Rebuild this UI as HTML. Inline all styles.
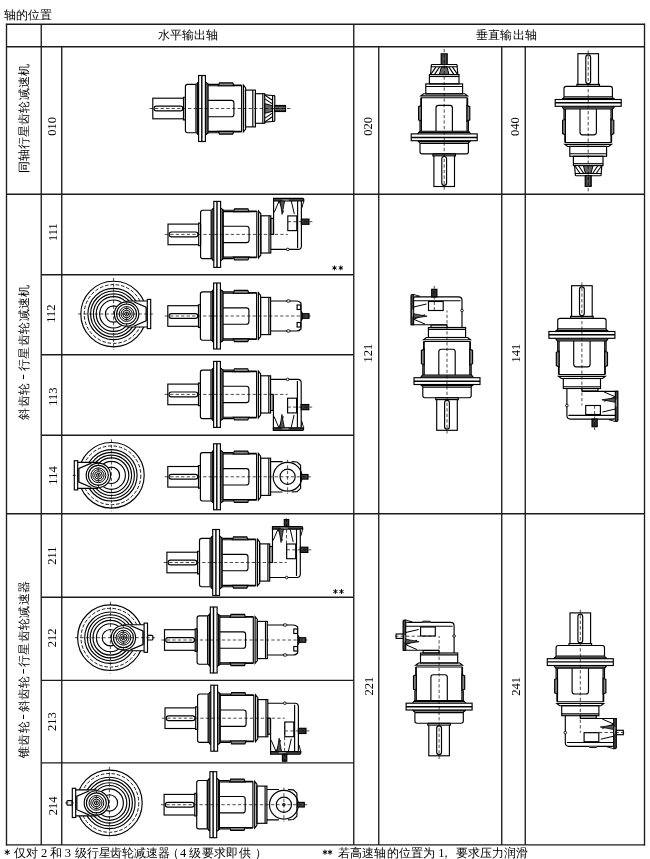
<!DOCTYPE html>
<html><head><meta charset="utf-8"><style>
html,body{margin:0;padding:0;background:#fff;}
svg{display:block;will-change:transform;}
text{font-family:"Liberation Serif",serif;fill:#000;}
.cn{font-family:"Liberation Sans",sans-serif;}
</style></head><body>
<svg width="650" height="859" viewBox="0 0 650 859">
<g stroke="#000" fill="none">
<line x1="6.5" y1="23.65" x2="6.5" y2="845.5" stroke-width="1.35" stroke="#1c1c1c"/>
<line x1="644.5" y1="23.65" x2="644.5" y2="845.5" stroke-width="1.35" stroke="#1c1c1c"/>
<line x1="5.9" y1="24.25" x2="645.1" y2="24.25" stroke-width="1.35" stroke="#1c1c1c"/>
<line x1="5.9" y1="844.9" x2="645.1" y2="844.9" stroke-width="1.35" stroke="#1c1c1c"/>
<line x1="6.5" y1="46.7" x2="644.5" y2="46.7" stroke-width="1.35" stroke="#1c1c1c"/>
<line x1="41.25" y1="24.25" x2="41.25" y2="844.9" stroke-width="1.35" stroke="#1c1c1c"/>
<line x1="353.75" y1="24.25" x2="353.75" y2="844.9" stroke-width="1.35" stroke="#1c1c1c"/>
<line x1="61.75" y1="46.7" x2="61.75" y2="844.9" stroke-width="1.35" stroke="#1c1c1c"/>
<line x1="378.75" y1="46.7" x2="378.75" y2="844.9" stroke-width="1.35" stroke="#1c1c1c"/>
<line x1="501.75" y1="46.7" x2="501.75" y2="844.9" stroke-width="1.35" stroke="#1c1c1c"/>
<line x1="525.25" y1="46.7" x2="525.25" y2="844.9" stroke-width="1.35" stroke="#1c1c1c"/>
<line x1="6.5" y1="194.25" x2="644.5" y2="194.25" stroke-width="1.35" stroke="#1c1c1c"/>
<line x1="6.5" y1="513.75" x2="644.5" y2="513.75" stroke-width="1.35" stroke="#1c1c1c"/>
<line x1="41.25" y1="274.7" x2="353.75" y2="274.7" stroke-width="1.35" stroke="#1c1c1c"/>
<line x1="41.25" y1="354.7" x2="353.75" y2="354.7" stroke-width="1.35" stroke="#1c1c1c"/>
<line x1="41.25" y1="435.25" x2="353.75" y2="435.25" stroke-width="1.35" stroke="#1c1c1c"/>
<line x1="41.25" y1="597.25" x2="353.75" y2="597.25" stroke-width="1.35" stroke="#1c1c1c"/>
<line x1="41.25" y1="680.3" x2="353.75" y2="680.3" stroke-width="1.35" stroke="#1c1c1c"/>
<line x1="41.25" y1="762.8" x2="353.75" y2="762.8" stroke-width="1.35" stroke="#1c1c1c"/>
<g transform="translate(198.6,108.5)">
<rect x="-45.8" y="-10.3" width="30.7" height="20.6" stroke-width="1.15" />
<rect x="-44.6" y="-2.4" width="28.8" height="4.8" rx="2.4" stroke-width="1.15" />
<path d="M -15.1 -10.3 L -15.1 -11.3 L -13.6 -11.3 L -13.2 -10.8 L -13.2 10.8 L -13.6 11.3 L -15.1 11.3 L -15.1 10.3" stroke-width="1.15" />
<path d="M -2.2 -24.2 L -11 -24.2 Q -13.2 -24.2 -13.2 -22 L -13.2 22 Q -13.2 24.2 -11 24.2 L -2.2 24.2 L 0 26.5 M -2.2 -24.2 L 0 -26.5" stroke-width="1.15" />
<line x1="-2.6" y1="-24" x2="-2.6" y2="24" stroke-width="1.3" />
<line x1="-0.9" y1="-26" x2="-0.9" y2="26" stroke-width="1.3" />
<rect x="0" y="-33" width="6.8" height="66" stroke-width="1.15" />
<line x1="3.2" y1="-33" x2="3.2" y2="33" stroke-width="1.4" />
<path d="M 6.8 -26.5 L 9.5 -24.4 L 9.5 24.4 L 6.8 26.5" stroke-width="1.15" />
<line x1="8.4" y1="-25.5" x2="8.4" y2="25.5" stroke-width="1.3" />
<path d="M 9.5 -24.2 L 19.6 -24.2 M 9.5 -22.8 L 43 -22.8 M 35.3 -23.4 L 43 -23.4" stroke-width="1.15" />
<path d="M 9.5 24.2 L 19.6 24.2 M 9.5 22.8 L 43 22.8 M 35.3 23.4 L 43 23.4" stroke-width="1.15" />
<path d="M 19.6 -22.8 L 20.8 -25.6 L 34.1 -25.6 L 35.3 -22.8 Z" fill="#888" stroke-width="1.15" />
<path d="M 19.6 22.8 L 20.8 25.6 L 34.1 25.6 L 35.3 22.8 Z" fill="#888" stroke-width="1.15" />
<path d="M 9.5 -8.2 L 32.8 -8.2 Q 35.3 -8.2 35.3 -5.7 L 35.3 5.7 Q 35.3 8.2 32.8 8.2 L 9.5 8.2" stroke-width="1.15" />
<line x1="43" y1="-23.4" x2="43" y2="23.4" stroke-width="1.15" />
<path d="M 44.8 -23.4 L 47 -20.6 L 47 20.6 L 44.8 23.4 Z" stroke-width="1.15" />
<rect x="46.8" y="-18.4" width="10" height="36.8" stroke-width="1.15" />
<line x1="54.2" y1="-18.4" x2="54.2" y2="18.4" stroke-width="1.15" />
<rect x="56.8" y="-14.8" width="9.3" height="29.6" stroke-width="1.15" />
<line x1="64.2" y1="-14.8" x2="64.2" y2="14.8" stroke-width="1.15" />
<path d="M 66.1 -13.6 L 74 -13 M 66.1 13.6 L 74 13" stroke-width="1.15" />
<path d="M 66.3 -13.4 L 73.8 -8.2 M 66.3 -9.6 L 73.8 -4.6 M 66.3 13.4 L 73.8 8.2 M 66.3 9.6 L 73.8 4.6" stroke-width="1.1" />
<path d="M 66.3 -4.8 L 73.8 -2.8 L 73.8 2.8 L 66.3 4.8 Z" fill="#666" stroke-width="1.0" />
<path d="M 74 -12.9 L 75.4 -12.9 Q 76.2 -12.9 76.2 -12 L 76.2 12 Q 76.2 12.9 75.4 12.9 L 74 12.9 Z" stroke-width="1.15" />
<rect x="76.2" y="-3" width="10.7" height="6" fill="#333" stroke-width="1.15" />
<line x1="76.4" y1="-1" x2="86.8" y2="-1" stroke-width="0.5" stroke="#999"/>
<line x1="76.4" y1="1" x2="86.8" y2="1" stroke-width="0.5" stroke="#999"/>
<line x1="-49" y1="0" x2="92" y2="0" stroke-width="0.7" stroke-dasharray="3.3 2.2"/>
</g>
<g transform="translate(213.8,234.4)">
<rect x="-45.8" y="-10.3" width="30.7" height="20.6" stroke-width="1.15" />
<rect x="-44.6" y="-2.4" width="28.8" height="4.8" rx="2.4" stroke-width="1.15" />
<path d="M -15.1 -10.3 L -15.1 -11.3 L -13.6 -11.3 L -13.2 -10.8 L -13.2 10.8 L -13.6 11.3 L -15.1 11.3 L -15.1 10.3" stroke-width="1.15" />
<path d="M -2.2 -24.2 L -11 -24.2 Q -13.2 -24.2 -13.2 -22 L -13.2 22 Q -13.2 24.2 -11 24.2 L -2.2 24.2 L 0 26.5 M -2.2 -24.2 L 0 -26.5" stroke-width="1.15" />
<line x1="-2.6" y1="-24" x2="-2.6" y2="24" stroke-width="1.3" />
<line x1="-0.9" y1="-26" x2="-0.9" y2="26" stroke-width="1.3" />
<rect x="0" y="-33" width="6.8" height="66" stroke-width="1.15" />
<line x1="3.2" y1="-33" x2="3.2" y2="33" stroke-width="1.4" />
<path d="M 6.8 -26.5 L 9.5 -24.4 L 9.5 24.4 L 6.8 26.5" stroke-width="1.15" />
<line x1="8.4" y1="-25.5" x2="8.4" y2="25.5" stroke-width="1.3" />
<path d="M 9.5 -24.2 L 19.6 -24.2 M 9.5 -22.8 L 43 -22.8 M 35.3 -23.4 L 43 -23.4" stroke-width="1.15" />
<path d="M 9.5 24.2 L 19.6 24.2 M 9.5 22.8 L 43 22.8 M 35.3 23.4 L 43 23.4" stroke-width="1.15" />
<path d="M 19.6 -22.8 L 20.8 -25.6 L 34.1 -25.6 L 35.3 -22.8 Z" fill="#888" stroke-width="1.15" />
<path d="M 19.6 22.8 L 20.8 25.6 L 34.1 25.6 L 35.3 22.8 Z" fill="#888" stroke-width="1.15" />
<path d="M 9.5 -8.2 L 32.8 -8.2 Q 35.3 -8.2 35.3 -5.7 L 35.3 5.7 Q 35.3 8.2 32.8 8.2 L 9.5 8.2" stroke-width="1.15" />
<line x1="43" y1="-23.4" x2="43" y2="23.4" stroke-width="1.15" />
<path d="M 44.8 -23.4 L 47 -20.6 L 47 20.6 L 44.8 23.4 Z" stroke-width="1.15" />
<rect x="47" y="-18.6" width="10" height="37.2" stroke-width="1.15" />
<line x1="55.2" y1="-18.6" x2="55.2" y2="18.6" stroke-width="1.15" />
<rect x="57" y="-16" width="2.5" height="16" stroke-width="1.15" />
<line x1="59.8" y1="0" x2="59.8" y2="-36" stroke-width="1.15" />
<path d="M 59.8 -36 L 88.8 -36 Q 90.0 -36 90.0 -34.8 L 90.0 -33.4 L 59.8 -33.4 Z" fill="#444" stroke-width="1.15" />
<rect x="68" y="-35" width="7" height="1.2" fill="#999" stroke="none"/>
<path d="M 57 15 L 84.1 15 Q 87.6 15 87.6 11.5 L 87.6 -33.4" stroke-width="1.15" />
<line x1="83.8" y1="13.5" x2="83.8" y2="-33.4" stroke-width="1.15" />
<circle cx="74" cy="15" r="1.3" fill="#fff" stroke-width="0.9" />
<rect x="74" y="-18.5" width="9" height="14.7" stroke-width="1.15" />
<path d="M 60.4 -22 L 65.3 -33.4 L 69.8 -22" stroke-width="1.0" />
<path d="M 66.3 -33.4 L 70.8 -33.4 L 68.3 -20 Z" fill="#555" stroke-width="0.8" />
<path d="M 77.5 -33.4 L 80.5 -20.5" stroke-width="1.0" />
<path d="M 87.6 -33.4 L 90.0 -33.4 L 88.19999999999999 -27 Z" fill="#fff" stroke-width="0.9" />
<line x1="-49" y1="0" x2="74" y2="0" stroke-width="0.7" stroke-dasharray="3.3 2.2"/>
<rect x="87.6" y="-15.3" width="7.6" height="5.2" fill="#333" stroke-width="1.15" />
<line x1="74" y1="-12.7" x2="98.6" y2="-12.7" stroke-width="0.7" stroke-dasharray="3.3 2.2"/>
</g>
<g transform="translate(213.6,316.0)">
<rect x="-45.8" y="-10.3" width="30.7" height="20.6" stroke-width="1.15" />
<rect x="-44.6" y="-2.4" width="28.8" height="4.8" rx="2.4" stroke-width="1.15" />
<path d="M -15.1 -10.3 L -15.1 -11.3 L -13.6 -11.3 L -13.2 -10.8 L -13.2 10.8 L -13.6 11.3 L -15.1 11.3 L -15.1 10.3" stroke-width="1.15" />
<path d="M -2.2 -24.2 L -11 -24.2 Q -13.2 -24.2 -13.2 -22 L -13.2 22 Q -13.2 24.2 -11 24.2 L -2.2 24.2 L 0 26.5 M -2.2 -24.2 L 0 -26.5" stroke-width="1.15" />
<line x1="-2.6" y1="-24" x2="-2.6" y2="24" stroke-width="1.3" />
<line x1="-0.9" y1="-26" x2="-0.9" y2="26" stroke-width="1.3" />
<rect x="0" y="-33" width="6.8" height="66" stroke-width="1.15" />
<line x1="3.2" y1="-33" x2="3.2" y2="33" stroke-width="1.4" />
<path d="M 6.8 -26.5 L 9.5 -24.4 L 9.5 24.4 L 6.8 26.5" stroke-width="1.15" />
<line x1="8.4" y1="-25.5" x2="8.4" y2="25.5" stroke-width="1.3" />
<path d="M 9.5 -24.2 L 19.6 -24.2 M 9.5 -22.8 L 43 -22.8 M 35.3 -23.4 L 43 -23.4" stroke-width="1.15" />
<path d="M 9.5 24.2 L 19.6 24.2 M 9.5 22.8 L 43 22.8 M 35.3 23.4 L 43 23.4" stroke-width="1.15" />
<path d="M 19.6 -22.8 L 20.8 -25.6 L 34.1 -25.6 L 35.3 -22.8 Z" fill="#888" stroke-width="1.15" />
<path d="M 19.6 22.8 L 20.8 25.6 L 34.1 25.6 L 35.3 22.8 Z" fill="#888" stroke-width="1.15" />
<path d="M 9.5 -8.2 L 32.8 -8.2 Q 35.3 -8.2 35.3 -5.7 L 35.3 5.7 Q 35.3 8.2 32.8 8.2 L 9.5 8.2" stroke-width="1.15" />
<line x1="43" y1="-23.4" x2="43" y2="23.4" stroke-width="1.15" />
<path d="M 44.8 -23.4 L 47 -20.6 L 47 20.6 L 44.8 23.4 Z" stroke-width="1.15" />
<rect x="47" y="-18.6" width="10" height="37.2" stroke-width="1.15" />
<line x1="55.2" y1="-18.6" x2="55.2" y2="18.6" stroke-width="1.15" />
<path d="M 57 -15 L 83 -15 Q 85.5 -15 87.4 -13 L 87.4 13 Q 85.5 15 83 15 L 57 15" stroke-width="1.15" />
<ellipse cx="74.8" cy="-15" rx="2" ry="1.2" fill="#fff" stroke-width="0.9"/>
<ellipse cx="74.8" cy="15" rx="2" ry="1.2" fill="#fff" stroke-width="0.9"/>
<rect x="83.5" y="-11" width="3.7" height="4.5" stroke-width="1.15" />
<rect x="83.5" y="6.5" width="3.7" height="4.5" stroke-width="1.15" />
<path d="M 87.4 -5 L 88.6 -3 L 88.6 3 L 87.4 5" fill="#333" stroke-width="1.15" />
<rect x="88.6" y="-2.3" width="6.8" height="4.6" fill="#444" stroke-width="1.15" />
<line x1="-49" y1="0" x2="97" y2="0" stroke-width="0.7" stroke-dasharray="3.3 2.2"/>
</g>
<g transform="translate(213.6,394.4)">
<rect x="-45.8" y="-10.3" width="30.7" height="20.6" stroke-width="1.15" />
<rect x="-44.6" y="-2.4" width="28.8" height="4.8" rx="2.4" stroke-width="1.15" />
<path d="M -15.1 -10.3 L -15.1 -11.3 L -13.6 -11.3 L -13.2 -10.8 L -13.2 10.8 L -13.6 11.3 L -15.1 11.3 L -15.1 10.3" stroke-width="1.15" />
<path d="M -2.2 -24.2 L -11 -24.2 Q -13.2 -24.2 -13.2 -22 L -13.2 22 Q -13.2 24.2 -11 24.2 L -2.2 24.2 L 0 26.5 M -2.2 -24.2 L 0 -26.5" stroke-width="1.15" />
<line x1="-2.6" y1="-24" x2="-2.6" y2="24" stroke-width="1.3" />
<line x1="-0.9" y1="-26" x2="-0.9" y2="26" stroke-width="1.3" />
<rect x="0" y="-33" width="6.8" height="66" stroke-width="1.15" />
<line x1="3.2" y1="-33" x2="3.2" y2="33" stroke-width="1.4" />
<path d="M 6.8 -26.5 L 9.5 -24.4 L 9.5 24.4 L 6.8 26.5" stroke-width="1.15" />
<line x1="8.4" y1="-25.5" x2="8.4" y2="25.5" stroke-width="1.3" />
<path d="M 9.5 -24.2 L 19.6 -24.2 M 9.5 -22.8 L 43 -22.8 M 35.3 -23.4 L 43 -23.4" stroke-width="1.15" />
<path d="M 9.5 24.2 L 19.6 24.2 M 9.5 22.8 L 43 22.8 M 35.3 23.4 L 43 23.4" stroke-width="1.15" />
<path d="M 19.6 -22.8 L 20.8 -25.6 L 34.1 -25.6 L 35.3 -22.8 Z" fill="#888" stroke-width="1.15" />
<path d="M 19.6 22.8 L 20.8 25.6 L 34.1 25.6 L 35.3 22.8 Z" fill="#888" stroke-width="1.15" />
<path d="M 9.5 -8.2 L 32.8 -8.2 Q 35.3 -8.2 35.3 -5.7 L 35.3 5.7 Q 35.3 8.2 32.8 8.2 L 9.5 8.2" stroke-width="1.15" />
<line x1="43" y1="-23.4" x2="43" y2="23.4" stroke-width="1.15" />
<path d="M 44.8 -23.4 L 47 -20.6 L 47 20.6 L 44.8 23.4 Z" stroke-width="1.15" />
<rect x="47" y="-18.6" width="10" height="37.2" stroke-width="1.15" />
<line x1="55.2" y1="-18.6" x2="55.2" y2="18.6" stroke-width="1.15" />
<rect x="57" y="0" width="2.5" height="16" stroke-width="1.15" />
<line x1="59.8" y1="0" x2="59.8" y2="36" stroke-width="1.15" />
<path d="M 59.8 36 L 88.8 36 Q 90.0 36 90.0 34.8 L 90.0 33.4 L 59.8 33.4 Z" fill="#444" stroke-width="1.15" />
<rect x="68" y="33.8" width="7" height="1.2" fill="#999" stroke="none"/>
<path d="M 57 -15 L 84.1 -15 Q 87.6 -15 87.6 -11.5 L 87.6 33.4" stroke-width="1.15" />
<line x1="83.8" y1="-13.5" x2="83.8" y2="33.4" stroke-width="1.15" />
<circle cx="74" cy="-15" r="1.3" fill="#fff" stroke-width="0.9" />
<rect x="74" y="3.8" width="9" height="14.7" stroke-width="1.15" />
<path d="M 60.4 22 L 65.3 33.4 L 69.8 22" stroke-width="1.0" />
<path d="M 66.3 33.4 L 70.8 33.4 L 68.3 20 Z" fill="#555" stroke-width="0.8" />
<path d="M 77.5 33.4 L 80.5 20.5" stroke-width="1.0" />
<path d="M 87.6 33.4 L 90.0 33.4 L 88.19999999999999 27 Z" fill="#fff" stroke-width="0.9" />
<line x1="-49" y1="0" x2="74" y2="0" stroke-width="0.7" stroke-dasharray="3.3 2.2"/>
<rect x="87.6" y="10.1" width="7.6" height="5.2" fill="#333" stroke-width="1.15" />
<line x1="74" y1="12.7" x2="98.6" y2="12.7" stroke-width="0.7" stroke-dasharray="3.3 2.2"/>
</g>
<g transform="translate(213.6,476.8)">
<rect x="-45.8" y="-10.3" width="30.7" height="20.6" stroke-width="1.15" />
<rect x="-44.6" y="-2.4" width="28.8" height="4.8" rx="2.4" stroke-width="1.15" />
<path d="M -15.1 -10.3 L -15.1 -11.3 L -13.6 -11.3 L -13.2 -10.8 L -13.2 10.8 L -13.6 11.3 L -15.1 11.3 L -15.1 10.3" stroke-width="1.15" />
<path d="M -2.2 -24.2 L -11 -24.2 Q -13.2 -24.2 -13.2 -22 L -13.2 22 Q -13.2 24.2 -11 24.2 L -2.2 24.2 L 0 26.5 M -2.2 -24.2 L 0 -26.5" stroke-width="1.15" />
<line x1="-2.6" y1="-24" x2="-2.6" y2="24" stroke-width="1.3" />
<line x1="-0.9" y1="-26" x2="-0.9" y2="26" stroke-width="1.3" />
<rect x="0" y="-33" width="6.8" height="66" stroke-width="1.15" />
<line x1="3.2" y1="-33" x2="3.2" y2="33" stroke-width="1.4" />
<path d="M 6.8 -26.5 L 9.5 -24.4 L 9.5 24.4 L 6.8 26.5" stroke-width="1.15" />
<line x1="8.4" y1="-25.5" x2="8.4" y2="25.5" stroke-width="1.3" />
<path d="M 9.5 -24.2 L 19.6 -24.2 M 9.5 -22.8 L 43 -22.8 M 35.3 -23.4 L 43 -23.4" stroke-width="1.15" />
<path d="M 9.5 24.2 L 19.6 24.2 M 9.5 22.8 L 43 22.8 M 35.3 23.4 L 43 23.4" stroke-width="1.15" />
<path d="M 19.6 -22.8 L 20.8 -25.6 L 34.1 -25.6 L 35.3 -22.8 Z" fill="#888" stroke-width="1.15" />
<path d="M 19.6 22.8 L 20.8 25.6 L 34.1 25.6 L 35.3 22.8 Z" fill="#888" stroke-width="1.15" />
<path d="M 9.5 -8.2 L 32.8 -8.2 Q 35.3 -8.2 35.3 -5.7 L 35.3 5.7 Q 35.3 8.2 32.8 8.2 L 9.5 8.2" stroke-width="1.15" />
<line x1="43" y1="-23.4" x2="43" y2="23.4" stroke-width="1.15" />
<path d="M 44.8 -23.4 L 47 -20.6 L 47 20.6 L 44.8 23.4 Z" stroke-width="1.15" />
<rect x="47" y="-18.6" width="10" height="37.2" stroke-width="1.15" />
<line x1="55.2" y1="-18.6" x2="55.2" y2="18.6" stroke-width="1.15" />
<path d="M 57 -15.2 L 69 -15.2 M 57 15.2 L 69 15.2" stroke-width="1.15" />
<path d="M 78 -15.2 L 83.5 -14.8 L 87 -11.5 L 87 11.5 L 83.5 14.8 L 78 15.2" stroke-width="1.15" />
<circle cx="74" cy="0" r="14.4" stroke-width="1.15" />
<circle cx="74" cy="0" r="7.6" stroke-width="1.15" />
<line x1="74" y1="-17" x2="74" y2="17" stroke-width="0.7" stroke-dasharray="3.3 2.2"/>
<rect x="87.6" y="-2.3" width="6.8" height="4.6" fill="#444" stroke-width="1.15" />
<line x1="-49" y1="0" x2="98" y2="0" stroke-width="0.7" stroke-dasharray="3.3 2.2"/>
</g>
<g transform="translate(212.7,562.5)">
<rect x="-45.8" y="-10.3" width="30.7" height="20.6" stroke-width="1.15" />
<rect x="-44.6" y="-2.4" width="28.8" height="4.8" rx="2.4" stroke-width="1.15" />
<path d="M -15.1 -10.3 L -15.1 -11.3 L -13.6 -11.3 L -13.2 -10.8 L -13.2 10.8 L -13.6 11.3 L -15.1 11.3 L -15.1 10.3" stroke-width="1.15" />
<path d="M -2.2 -24.2 L -11 -24.2 Q -13.2 -24.2 -13.2 -22 L -13.2 22 Q -13.2 24.2 -11 24.2 L -2.2 24.2 L 0 26.5 M -2.2 -24.2 L 0 -26.5" stroke-width="1.15" />
<line x1="-2.6" y1="-24" x2="-2.6" y2="24" stroke-width="1.3" />
<line x1="-0.9" y1="-26" x2="-0.9" y2="26" stroke-width="1.3" />
<rect x="0" y="-33" width="6.8" height="66" stroke-width="1.15" />
<line x1="3.2" y1="-33" x2="3.2" y2="33" stroke-width="1.4" />
<path d="M 6.8 -26.5 L 9.5 -24.4 L 9.5 24.4 L 6.8 26.5" stroke-width="1.15" />
<line x1="8.4" y1="-25.5" x2="8.4" y2="25.5" stroke-width="1.3" />
<path d="M 9.5 -24.2 L 19.6 -24.2 M 9.5 -22.8 L 43 -22.8 M 35.3 -23.4 L 43 -23.4" stroke-width="1.15" />
<path d="M 9.5 24.2 L 19.6 24.2 M 9.5 22.8 L 43 22.8 M 35.3 23.4 L 43 23.4" stroke-width="1.15" />
<path d="M 19.6 -22.8 L 20.8 -25.6 L 34.1 -25.6 L 35.3 -22.8 Z" fill="#888" stroke-width="1.15" />
<path d="M 19.6 22.8 L 20.8 25.6 L 34.1 25.6 L 35.3 22.8 Z" fill="#888" stroke-width="1.15" />
<path d="M 9.5 -8.2 L 32.8 -8.2 Q 35.3 -8.2 35.3 -5.7 L 35.3 5.7 Q 35.3 8.2 32.8 8.2 L 9.5 8.2" stroke-width="1.15" />
<line x1="43" y1="-23.4" x2="43" y2="23.4" stroke-width="1.15" />
<path d="M 44.8 -23.4 L 47 -20.6 L 47 20.6 L 44.8 23.4 Z" stroke-width="1.15" />
<rect x="47" y="-18.6" width="10" height="37.2" stroke-width="1.15" />
<line x1="55.2" y1="-18.6" x2="55.2" y2="18.6" stroke-width="1.15" />
<rect x="57" y="-16" width="2.5" height="16" stroke-width="1.15" />
<line x1="59.8" y1="0" x2="59.8" y2="-36" stroke-width="1.15" />
<path d="M 59.8 -36 L 88.8 -36 Q 90.0 -36 90.0 -34.8 L 90.0 -33.4 L 59.8 -33.4 Z" fill="#444" stroke-width="1.15" />
<rect x="68" y="-35" width="7" height="1.2" fill="#999" stroke="none"/>
<path d="M 57 15 L 84.1 15 Q 87.6 15 87.6 11.5 L 87.6 -33.4" stroke-width="1.15" />
<line x1="83.8" y1="13.5" x2="83.8" y2="-33.4" stroke-width="1.15" />
<circle cx="74" cy="15" r="1.3" fill="#fff" stroke-width="0.9" />
<rect x="74" y="-18.5" width="9" height="14.7" stroke-width="1.15" />
<path d="M 60.4 -22 L 65.3 -33.4 L 69.8 -22" stroke-width="1.0" />
<path d="M 66.3 -33.4 L 70.8 -33.4 L 68.3 -20 Z" fill="#555" stroke-width="0.8" />
<path d="M 77.5 -33.4 L 80.5 -20.5" stroke-width="1.0" />
<path d="M 87.6 -33.4 L 90.0 -33.4 L 88.19999999999999 -27 Z" fill="#fff" stroke-width="0.9" />
<line x1="-49" y1="0" x2="74" y2="0" stroke-width="0.7" stroke-dasharray="3.3 2.2"/>
<rect x="87.6" y="-15.3" width="7.6" height="5.2" fill="#333" stroke-width="1.15" />
<line x1="74" y1="-12.7" x2="98.6" y2="-12.7" stroke-width="0.7" stroke-dasharray="3.3 2.2"/>
<rect x="71.6" y="-43" width="4.4" height="7" fill="#333" stroke-width="1.15" />
<line x1="73.8" y1="-44" x2="73.8" y2="-4" stroke-width="0.7" stroke-dasharray="3.3 2.2"/>
</g>
<g transform="translate(210.3,640.0)">
<rect x="-45.8" y="-10.3" width="30.7" height="20.6" stroke-width="1.15" />
<rect x="-44.6" y="-2.4" width="28.8" height="4.8" rx="2.4" stroke-width="1.15" />
<path d="M -15.1 -10.3 L -15.1 -11.3 L -13.6 -11.3 L -13.2 -10.8 L -13.2 10.8 L -13.6 11.3 L -15.1 11.3 L -15.1 10.3" stroke-width="1.15" />
<path d="M -2.2 -24.2 L -11 -24.2 Q -13.2 -24.2 -13.2 -22 L -13.2 22 Q -13.2 24.2 -11 24.2 L -2.2 24.2 L 0 26.5 M -2.2 -24.2 L 0 -26.5" stroke-width="1.15" />
<line x1="-2.6" y1="-24" x2="-2.6" y2="24" stroke-width="1.3" />
<line x1="-0.9" y1="-26" x2="-0.9" y2="26" stroke-width="1.3" />
<rect x="0" y="-33" width="6.8" height="66" stroke-width="1.15" />
<line x1="3.2" y1="-33" x2="3.2" y2="33" stroke-width="1.4" />
<path d="M 6.8 -26.5 L 9.5 -24.4 L 9.5 24.4 L 6.8 26.5" stroke-width="1.15" />
<line x1="8.4" y1="-25.5" x2="8.4" y2="25.5" stroke-width="1.3" />
<path d="M 9.5 -24.2 L 19.6 -24.2 M 9.5 -22.8 L 43 -22.8 M 35.3 -23.4 L 43 -23.4" stroke-width="1.15" />
<path d="M 9.5 24.2 L 19.6 24.2 M 9.5 22.8 L 43 22.8 M 35.3 23.4 L 43 23.4" stroke-width="1.15" />
<path d="M 19.6 -22.8 L 20.8 -25.6 L 34.1 -25.6 L 35.3 -22.8 Z" fill="#888" stroke-width="1.15" />
<path d="M 19.6 22.8 L 20.8 25.6 L 34.1 25.6 L 35.3 22.8 Z" fill="#888" stroke-width="1.15" />
<path d="M 9.5 -8.2 L 32.8 -8.2 Q 35.3 -8.2 35.3 -5.7 L 35.3 5.7 Q 35.3 8.2 32.8 8.2 L 9.5 8.2" stroke-width="1.15" />
<line x1="43" y1="-23.4" x2="43" y2="23.4" stroke-width="1.15" />
<path d="M 44.8 -23.4 L 47 -20.6 L 47 20.6 L 44.8 23.4 Z" stroke-width="1.15" />
<rect x="47" y="-18.6" width="10" height="37.2" stroke-width="1.15" />
<line x1="55.2" y1="-18.6" x2="55.2" y2="18.6" stroke-width="1.15" />
<path d="M 57 -15 L 83 -15 Q 85.5 -15 87.4 -13 L 87.4 13 Q 85.5 15 83 15 L 57 15" stroke-width="1.15" />
<ellipse cx="74.8" cy="-15" rx="2" ry="1.2" fill="#fff" stroke-width="0.9"/>
<ellipse cx="74.8" cy="15" rx="2" ry="1.2" fill="#fff" stroke-width="0.9"/>
<rect x="83.5" y="-11" width="3.7" height="4.5" stroke-width="1.15" />
<rect x="83.5" y="6.5" width="3.7" height="4.5" stroke-width="1.15" />
<path d="M 87.4 -5 L 88.6 -3 L 88.6 3 L 87.4 5" fill="#333" stroke-width="1.15" />
<rect x="88.6" y="-2.3" width="6.8" height="4.6" fill="#444" stroke-width="1.15" />
<line x1="-49" y1="0" x2="97" y2="0" stroke-width="0.7" stroke-dasharray="3.3 2.2"/>
</g>
<g transform="translate(210.8,718.2)">
<rect x="-45.8" y="-10.3" width="30.7" height="20.6" stroke-width="1.15" />
<rect x="-44.6" y="-2.4" width="28.8" height="4.8" rx="2.4" stroke-width="1.15" />
<path d="M -15.1 -10.3 L -15.1 -11.3 L -13.6 -11.3 L -13.2 -10.8 L -13.2 10.8 L -13.6 11.3 L -15.1 11.3 L -15.1 10.3" stroke-width="1.15" />
<path d="M -2.2 -24.2 L -11 -24.2 Q -13.2 -24.2 -13.2 -22 L -13.2 22 Q -13.2 24.2 -11 24.2 L -2.2 24.2 L 0 26.5 M -2.2 -24.2 L 0 -26.5" stroke-width="1.15" />
<line x1="-2.6" y1="-24" x2="-2.6" y2="24" stroke-width="1.3" />
<line x1="-0.9" y1="-26" x2="-0.9" y2="26" stroke-width="1.3" />
<rect x="0" y="-33" width="6.8" height="66" stroke-width="1.15" />
<line x1="3.2" y1="-33" x2="3.2" y2="33" stroke-width="1.4" />
<path d="M 6.8 -26.5 L 9.5 -24.4 L 9.5 24.4 L 6.8 26.5" stroke-width="1.15" />
<line x1="8.4" y1="-25.5" x2="8.4" y2="25.5" stroke-width="1.3" />
<path d="M 9.5 -24.2 L 19.6 -24.2 M 9.5 -22.8 L 43 -22.8 M 35.3 -23.4 L 43 -23.4" stroke-width="1.15" />
<path d="M 9.5 24.2 L 19.6 24.2 M 9.5 22.8 L 43 22.8 M 35.3 23.4 L 43 23.4" stroke-width="1.15" />
<path d="M 19.6 -22.8 L 20.8 -25.6 L 34.1 -25.6 L 35.3 -22.8 Z" fill="#888" stroke-width="1.15" />
<path d="M 19.6 22.8 L 20.8 25.6 L 34.1 25.6 L 35.3 22.8 Z" fill="#888" stroke-width="1.15" />
<path d="M 9.5 -8.2 L 32.8 -8.2 Q 35.3 -8.2 35.3 -5.7 L 35.3 5.7 Q 35.3 8.2 32.8 8.2 L 9.5 8.2" stroke-width="1.15" />
<line x1="43" y1="-23.4" x2="43" y2="23.4" stroke-width="1.15" />
<path d="M 44.8 -23.4 L 47 -20.6 L 47 20.6 L 44.8 23.4 Z" stroke-width="1.15" />
<rect x="47" y="-18.6" width="10" height="37.2" stroke-width="1.15" />
<line x1="55.2" y1="-18.6" x2="55.2" y2="18.6" stroke-width="1.15" />
<rect x="57" y="0" width="2.5" height="16" stroke-width="1.15" />
<line x1="59.8" y1="0" x2="59.8" y2="36" stroke-width="1.15" />
<path d="M 59.8 36 L 88.8 36 Q 90.0 36 90.0 34.8 L 90.0 33.4 L 59.8 33.4 Z" fill="#444" stroke-width="1.15" />
<rect x="68" y="33.8" width="7" height="1.2" fill="#999" stroke="none"/>
<path d="M 57 -15 L 84.1 -15 Q 87.6 -15 87.6 -11.5 L 87.6 33.4" stroke-width="1.15" />
<line x1="83.8" y1="-13.5" x2="83.8" y2="33.4" stroke-width="1.15" />
<circle cx="74" cy="-15" r="1.3" fill="#fff" stroke-width="0.9" />
<rect x="74" y="3.8" width="9" height="14.7" stroke-width="1.15" />
<path d="M 60.4 22 L 65.3 33.4 L 69.8 22" stroke-width="1.0" />
<path d="M 66.3 33.4 L 70.8 33.4 L 68.3 20 Z" fill="#555" stroke-width="0.8" />
<path d="M 77.5 33.4 L 80.5 20.5" stroke-width="1.0" />
<path d="M 87.6 33.4 L 90.0 33.4 L 88.19999999999999 27 Z" fill="#fff" stroke-width="0.9" />
<line x1="-49" y1="0" x2="74" y2="0" stroke-width="0.7" stroke-dasharray="3.3 2.2"/>
<rect x="87.6" y="10.1" width="7.6" height="5.2" fill="#333" stroke-width="1.15" />
<line x1="74" y1="12.7" x2="98.6" y2="12.7" stroke-width="0.7" stroke-dasharray="3.3 2.2"/>
<rect x="71.6" y="36" width="4.4" height="7" fill="#333" stroke-width="1.15" />
<line x1="73.8" y1="44" x2="73.8" y2="4" stroke-width="0.7" stroke-dasharray="3.3 2.2"/>
</g>
<g transform="translate(209.9,804.7)">
<rect x="-45.8" y="-10.3" width="30.7" height="20.6" stroke-width="1.15" />
<rect x="-44.6" y="-2.4" width="28.8" height="4.8" rx="2.4" stroke-width="1.15" />
<path d="M -15.1 -10.3 L -15.1 -11.3 L -13.6 -11.3 L -13.2 -10.8 L -13.2 10.8 L -13.6 11.3 L -15.1 11.3 L -15.1 10.3" stroke-width="1.15" />
<path d="M -2.2 -24.2 L -11 -24.2 Q -13.2 -24.2 -13.2 -22 L -13.2 22 Q -13.2 24.2 -11 24.2 L -2.2 24.2 L 0 26.5 M -2.2 -24.2 L 0 -26.5" stroke-width="1.15" />
<line x1="-2.6" y1="-24" x2="-2.6" y2="24" stroke-width="1.3" />
<line x1="-0.9" y1="-26" x2="-0.9" y2="26" stroke-width="1.3" />
<rect x="0" y="-33" width="6.8" height="66" stroke-width="1.15" />
<line x1="3.2" y1="-33" x2="3.2" y2="33" stroke-width="1.4" />
<path d="M 6.8 -26.5 L 9.5 -24.4 L 9.5 24.4 L 6.8 26.5" stroke-width="1.15" />
<line x1="8.4" y1="-25.5" x2="8.4" y2="25.5" stroke-width="1.3" />
<path d="M 9.5 -24.2 L 19.6 -24.2 M 9.5 -22.8 L 43 -22.8 M 35.3 -23.4 L 43 -23.4" stroke-width="1.15" />
<path d="M 9.5 24.2 L 19.6 24.2 M 9.5 22.8 L 43 22.8 M 35.3 23.4 L 43 23.4" stroke-width="1.15" />
<path d="M 19.6 -22.8 L 20.8 -25.6 L 34.1 -25.6 L 35.3 -22.8 Z" fill="#888" stroke-width="1.15" />
<path d="M 19.6 22.8 L 20.8 25.6 L 34.1 25.6 L 35.3 22.8 Z" fill="#888" stroke-width="1.15" />
<path d="M 9.5 -8.2 L 32.8 -8.2 Q 35.3 -8.2 35.3 -5.7 L 35.3 5.7 Q 35.3 8.2 32.8 8.2 L 9.5 8.2" stroke-width="1.15" />
<line x1="43" y1="-23.4" x2="43" y2="23.4" stroke-width="1.15" />
<path d="M 44.8 -23.4 L 47 -20.6 L 47 20.6 L 44.8 23.4 Z" stroke-width="1.15" />
<rect x="47" y="-18.6" width="10" height="37.2" stroke-width="1.15" />
<line x1="55.2" y1="-18.6" x2="55.2" y2="18.6" stroke-width="1.15" />
<path d="M 57 -15.2 L 69 -15.2 M 57 15.2 L 69 15.2" stroke-width="1.15" />
<path d="M 78 -15.2 L 83.5 -14.8 L 87 -11.5 L 87 11.5 L 83.5 14.8 L 78 15.2" stroke-width="1.15" />
<circle cx="74" cy="0" r="14.4" stroke-width="1.15" />
<circle cx="74" cy="0" r="7.6" stroke-width="1.15" />
<circle cx="74" cy="0" r="1.3" stroke-width="1.0" />
<line x1="74" y1="-17" x2="74" y2="17" stroke-width="0.7" stroke-dasharray="3.3 2.2"/>
<rect x="87.6" y="-2.3" width="6.8" height="4.6" fill="#444" stroke-width="1.15" />
<line x1="-49" y1="0" x2="98" y2="0" stroke-width="0.7" stroke-dasharray="3.3 2.2"/>
</g>
<circle cx="113.6" cy="314" r="32.8" stroke-width="1.15" />
<circle cx="113.6" cy="314" r="29.4" stroke-width="0.9" stroke-dasharray="3.6 1.8"/>
<circle cx="113.6" cy="314" r="25.7" stroke-width="1.15" />
<circle cx="113.6" cy="314" r="23" stroke-width="1.15" />
<circle cx="113.6" cy="314" r="20.2" stroke-width="1.15" />
<circle cx="113.6" cy="314" r="17.4" stroke-width="1.15" />
<circle cx="113.6" cy="314" r="14" stroke-width="1.15" />
<circle cx="113.6" cy="314" r="8.2" stroke-width="1.15" />
<path d="M 126.6 301 L 147.3 301 L 147.3 327 L 126.6 327 Z" fill="#fff" stroke="none"/>
<path d="M 126.6 301 L 147.3 301 M 126.6 327 L 147.3 327" stroke-width="1.15" />
<path d="M 133.6 301.8 L 146.1 307.2 L 146.1 320.8 L 133.6 326.2" stroke-width="1.15" />
<line x1="147.1" y1="307.2" x2="147.1" y2="320.8" stroke-width="0.8" />
<circle cx="126.6" cy="314" r="12.2" fill="#fff" stroke-width="1.15" />
<circle cx="126.6" cy="314" r="10" stroke-width="1.15" />
<circle cx="126.6" cy="314" r="7.4" stroke-width="1.0" />
<circle cx="126.6" cy="314" r="5.6" stroke-width="1.0" />
<circle cx="126.6" cy="314" r="3.8" stroke-width="1.0" />
<circle cx="126.6" cy="314" r="2" stroke-width="1.0" />
<circle cx="126.6" cy="314" r="0.6" stroke-width="0.8" />
<rect x="147.3" y="299.4" width="3.4" height="29.2" stroke-width="1.15" />
<line x1="78.1" y1="314" x2="153.3" y2="314" stroke-width="0.7" stroke-dasharray="3.3 2.2"/>
<line x1="113.6" y1="278" x2="113.6" y2="350" stroke-width="0.7" stroke-dasharray="3.3 2.2"/>
<line x1="126.6" y1="301" x2="126.6" y2="327" stroke-width="0.7" stroke-dasharray="3.3 2.2"/>
<circle cx="111.4" cy="475.3" r="32.8" stroke-width="1.15" />
<circle cx="111.4" cy="475.3" r="29.4" stroke-width="0.9" stroke-dasharray="3.6 1.8"/>
<circle cx="111.4" cy="475.3" r="25.7" stroke-width="1.15" />
<circle cx="111.4" cy="475.3" r="23" stroke-width="1.15" />
<circle cx="111.4" cy="475.3" r="20.2" stroke-width="1.15" />
<circle cx="111.4" cy="475.3" r="17.4" stroke-width="1.15" />
<circle cx="111.4" cy="475.3" r="14" stroke-width="1.15" />
<circle cx="111.4" cy="475.3" r="8.2" stroke-width="1.15" />
<path d="M 98.4 462.3 L 77.7 462.3 L 77.7 488.3 L 98.4 488.3 Z" fill="#fff" stroke="none"/>
<path d="M 98.4 462.3 L 77.7 462.3 M 98.4 488.3 L 77.7 488.3" stroke-width="1.15" />
<path d="M 91.4 463.1 L 78.9 468.5 L 78.9 482.1 L 91.4 487.5" stroke-width="1.15" />
<line x1="77.9" y1="468.5" x2="77.9" y2="482.1" stroke-width="0.8" />
<circle cx="98.4" cy="475.3" r="12.2" fill="#fff" stroke-width="1.15" />
<circle cx="98.4" cy="475.3" r="10" stroke-width="1.15" />
<circle cx="98.4" cy="475.3" r="7.4" stroke-width="1.0" />
<circle cx="98.4" cy="475.3" r="5.6" stroke-width="1.0" />
<circle cx="98.4" cy="475.3" r="3.8" stroke-width="1.0" />
<circle cx="98.4" cy="475.3" r="2" stroke-width="1.0" />
<circle cx="98.4" cy="475.3" r="0.6" stroke-width="0.8" />
<rect x="74.3" y="460.7" width="3.4" height="29.2" stroke-width="1.15" />
<line x1="75.9" y1="475.3" x2="71.7" y2="475.3" stroke-width="0.7" stroke-dasharray="3.3 2.2"/>
<line x1="111.4" y1="439.3" x2="111.4" y2="511.3" stroke-width="0.7" stroke-dasharray="3.3 2.2"/>
<line x1="98.4" y1="462.3" x2="98.4" y2="488.3" stroke-width="0.7" stroke-dasharray="3.3 2.2"/>
<circle cx="110.4" cy="637.7" r="32.8" stroke-width="1.15" />
<circle cx="110.4" cy="637.7" r="29.4" stroke-width="0.9" stroke-dasharray="3.6 1.8"/>
<circle cx="110.4" cy="637.7" r="25.7" stroke-width="1.15" />
<circle cx="110.4" cy="637.7" r="23" stroke-width="1.15" />
<circle cx="110.4" cy="637.7" r="20.2" stroke-width="1.15" />
<circle cx="110.4" cy="637.7" r="17.4" stroke-width="1.15" />
<circle cx="110.4" cy="637.7" r="14" stroke-width="1.15" />
<circle cx="110.4" cy="637.7" r="8.2" stroke-width="1.15" />
<path d="M 123.4 624.7 L 144.1 624.7 L 144.1 650.7 L 123.4 650.7 Z" fill="#fff" stroke="none"/>
<path d="M 123.4 624.7 L 144.1 624.7 M 123.4 650.7 L 144.1 650.7" stroke-width="1.15" />
<path d="M 130.4 625.5 L 142.9 630.9 L 142.9 644.5 L 130.4 649.9" stroke-width="1.15" />
<line x1="143.9" y1="630.9" x2="143.9" y2="644.5" stroke-width="0.8" />
<circle cx="123.4" cy="637.7" r="12.2" fill="#fff" stroke-width="1.15" />
<circle cx="123.4" cy="637.7" r="10" stroke-width="1.15" />
<circle cx="123.4" cy="637.7" r="7.4" stroke-width="1.0" />
<circle cx="123.4" cy="637.7" r="5.6" stroke-width="1.0" />
<circle cx="123.4" cy="637.7" r="3.8" stroke-width="1.0" />
<circle cx="123.4" cy="637.7" r="2" stroke-width="1.0" />
<circle cx="123.4" cy="637.7" r="0.6" stroke-width="0.8" />
<rect x="144.1" y="623.1" width="3.4" height="29.2" stroke-width="1.15" />
<rect x="147.5" y="635.4" width="5.4" height="4.6" rx="1" stroke-width="1.15" />
<line x1="74.9" y1="637.7" x2="155.1" y2="637.7" stroke-width="0.7" stroke-dasharray="3.3 2.2"/>
<line x1="110.4" y1="601.7" x2="110.4" y2="673.7" stroke-width="0.7" stroke-dasharray="3.3 2.2"/>
<line x1="123.4" y1="624.7" x2="123.4" y2="650.7" stroke-width="0.7" stroke-dasharray="3.3 2.2"/>
<circle cx="109.4" cy="802.9" r="32.8" stroke-width="1.15" />
<circle cx="109.4" cy="802.9" r="29.4" stroke-width="0.9" stroke-dasharray="3.6 1.8"/>
<circle cx="109.4" cy="802.9" r="25.7" stroke-width="1.15" />
<circle cx="109.4" cy="802.9" r="23" stroke-width="1.15" />
<circle cx="109.4" cy="802.9" r="20.2" stroke-width="1.15" />
<circle cx="109.4" cy="802.9" r="17.4" stroke-width="1.15" />
<circle cx="109.4" cy="802.9" r="14" stroke-width="1.15" />
<circle cx="109.4" cy="802.9" r="8.2" stroke-width="1.15" />
<path d="M 96.4 789.9 L 75.7 789.9 L 75.7 815.9 L 96.4 815.9 Z" fill="#fff" stroke="none"/>
<path d="M 96.4 789.9 L 75.7 789.9 M 96.4 815.9 L 75.7 815.9" stroke-width="1.15" />
<path d="M 89.4 790.7 L 76.9 796.1 L 76.9 809.7 L 89.4 815.1" stroke-width="1.15" />
<line x1="75.9" y1="796.1" x2="75.9" y2="809.7" stroke-width="0.8" />
<circle cx="96.4" cy="802.9" r="12.2" fill="#fff" stroke-width="1.15" />
<circle cx="96.4" cy="802.9" r="10" stroke-width="1.15" />
<circle cx="96.4" cy="802.9" r="7.4" stroke-width="1.0" />
<circle cx="96.4" cy="802.9" r="5.6" stroke-width="1.0" />
<circle cx="96.4" cy="802.9" r="3.8" stroke-width="1.0" />
<circle cx="96.4" cy="802.9" r="2" stroke-width="1.0" />
<circle cx="96.4" cy="802.9" r="0.6" stroke-width="0.8" />
<rect x="72.3" y="788.3" width="3.4" height="29.2" stroke-width="1.15" />
<rect x="66.9" y="800.6" width="5.4" height="4.6" rx="1" stroke-width="1.15" />
<line x1="73.9" y1="802.9" x2="64.7" y2="802.9" stroke-width="0.7" stroke-dasharray="3.3 2.2"/>
<line x1="109.4" y1="766.9" x2="109.4" y2="838.9" stroke-width="0.7" stroke-dasharray="3.3 2.2"/>
<line x1="96.4" y1="789.9" x2="96.4" y2="815.9" stroke-width="0.7" stroke-dasharray="3.3 2.2"/>
<g transform="translate(444.2,140.7) rotate(-90)">
<rect x="-45.8" y="-10.3" width="30.7" height="20.6" stroke-width="1.15" />
<rect x="-44.6" y="-2.4" width="28.8" height="4.8" rx="2.4" stroke-width="1.15" />
<path d="M -15.1 -10.3 L -15.1 -11.3 L -13.6 -11.3 L -13.2 -10.8 L -13.2 10.8 L -13.6 11.3 L -15.1 11.3 L -15.1 10.3" stroke-width="1.15" />
<path d="M -2.2 -24.2 L -11 -24.2 Q -13.2 -24.2 -13.2 -22 L -13.2 22 Q -13.2 24.2 -11 24.2 L -2.2 24.2 L 0 26.5 M -2.2 -24.2 L 0 -26.5" stroke-width="1.15" />
<line x1="-2.6" y1="-24" x2="-2.6" y2="24" stroke-width="1.3" />
<line x1="-0.9" y1="-26" x2="-0.9" y2="26" stroke-width="1.3" />
<rect x="0" y="-33" width="6.8" height="66" stroke-width="1.15" />
<line x1="3.2" y1="-33" x2="3.2" y2="33" stroke-width="1.4" />
<path d="M 6.8 -26.5 L 9.5 -24.4 L 9.5 24.4 L 6.8 26.5" stroke-width="1.15" />
<line x1="8.4" y1="-25.5" x2="8.4" y2="25.5" stroke-width="1.3" />
<path d="M 9.5 -24.2 L 19.6 -24.2 M 9.5 -22.8 L 43 -22.8 M 35.3 -23.4 L 43 -23.4" stroke-width="1.15" />
<path d="M 9.5 24.2 L 19.6 24.2 M 9.5 22.8 L 43 22.8 M 35.3 23.4 L 43 23.4" stroke-width="1.15" />
<path d="M 19.6 -22.8 L 20.8 -25.6 L 34.1 -25.6 L 35.3 -22.8 Z" fill="#888" stroke-width="1.15" />
<path d="M 19.6 22.8 L 20.8 25.6 L 34.1 25.6 L 35.3 22.8 Z" fill="#888" stroke-width="1.15" />
<path d="M 9.5 -8.2 L 32.8 -8.2 Q 35.3 -8.2 35.3 -5.7 L 35.3 5.7 Q 35.3 8.2 32.8 8.2 L 9.5 8.2" stroke-width="1.15" />
<line x1="43" y1="-23.4" x2="43" y2="23.4" stroke-width="1.15" />
<path d="M 44.8 -23.4 L 47 -20.6 L 47 20.6 L 44.8 23.4 Z" stroke-width="1.15" />
<rect x="46.8" y="-18.4" width="10" height="36.8" stroke-width="1.15" />
<line x1="54.2" y1="-18.4" x2="54.2" y2="18.4" stroke-width="1.15" />
<rect x="56.8" y="-14.8" width="9.3" height="29.6" stroke-width="1.15" />
<line x1="64.2" y1="-14.8" x2="64.2" y2="14.8" stroke-width="1.15" />
<path d="M 66.1 -13.6 L 74 -13 M 66.1 13.6 L 74 13" stroke-width="1.15" />
<path d="M 66.3 -13.4 L 73.8 -8.2 M 66.3 -9.6 L 73.8 -4.6 M 66.3 13.4 L 73.8 8.2 M 66.3 9.6 L 73.8 4.6" stroke-width="1.1" />
<path d="M 66.3 -4.8 L 73.8 -2.8 L 73.8 2.8 L 66.3 4.8 Z" fill="#666" stroke-width="1.0" />
<path d="M 74 -12.9 L 75.4 -12.9 Q 76.2 -12.9 76.2 -12 L 76.2 12 Q 76.2 12.9 75.4 12.9 L 74 12.9 Z" stroke-width="1.15" />
<rect x="76.2" y="-3" width="10.7" height="6" fill="#333" stroke-width="1.15" />
<line x1="76.4" y1="-1" x2="86.8" y2="-1" stroke-width="0.5" stroke="#999"/>
<line x1="76.4" y1="1" x2="86.8" y2="1" stroke-width="0.5" stroke="#999"/>
<line x1="-49" y1="0" x2="92" y2="0" stroke-width="0.7" stroke-dasharray="3.3 2.2"/>
</g>
<g transform="translate(588.2,99.5) rotate(90)">
<rect x="-45.8" y="-10.3" width="30.7" height="20.6" stroke-width="1.15" />
<rect x="-44.6" y="-2.4" width="28.8" height="4.8" rx="2.4" stroke-width="1.15" />
<path d="M -15.1 -10.3 L -15.1 -11.3 L -13.6 -11.3 L -13.2 -10.8 L -13.2 10.8 L -13.6 11.3 L -15.1 11.3 L -15.1 10.3" stroke-width="1.15" />
<path d="M -2.2 -24.2 L -11 -24.2 Q -13.2 -24.2 -13.2 -22 L -13.2 22 Q -13.2 24.2 -11 24.2 L -2.2 24.2 L 0 26.5 M -2.2 -24.2 L 0 -26.5" stroke-width="1.15" />
<line x1="-2.6" y1="-24" x2="-2.6" y2="24" stroke-width="1.3" />
<line x1="-0.9" y1="-26" x2="-0.9" y2="26" stroke-width="1.3" />
<rect x="0" y="-33" width="6.8" height="66" stroke-width="1.15" />
<line x1="3.2" y1="-33" x2="3.2" y2="33" stroke-width="1.4" />
<path d="M 6.8 -26.5 L 9.5 -24.4 L 9.5 24.4 L 6.8 26.5" stroke-width="1.15" />
<line x1="8.4" y1="-25.5" x2="8.4" y2="25.5" stroke-width="1.3" />
<path d="M 9.5 -24.2 L 19.6 -24.2 M 9.5 -22.8 L 43 -22.8 M 35.3 -23.4 L 43 -23.4" stroke-width="1.15" />
<path d="M 9.5 24.2 L 19.6 24.2 M 9.5 22.8 L 43 22.8 M 35.3 23.4 L 43 23.4" stroke-width="1.15" />
<path d="M 19.6 -22.8 L 20.8 -25.6 L 34.1 -25.6 L 35.3 -22.8 Z" fill="#888" stroke-width="1.15" />
<path d="M 19.6 22.8 L 20.8 25.6 L 34.1 25.6 L 35.3 22.8 Z" fill="#888" stroke-width="1.15" />
<path d="M 9.5 -8.2 L 32.8 -8.2 Q 35.3 -8.2 35.3 -5.7 L 35.3 5.7 Q 35.3 8.2 32.8 8.2 L 9.5 8.2" stroke-width="1.15" />
<line x1="43" y1="-23.4" x2="43" y2="23.4" stroke-width="1.15" />
<path d="M 44.8 -23.4 L 47 -20.6 L 47 20.6 L 44.8 23.4 Z" stroke-width="1.15" />
<rect x="46.8" y="-18.4" width="10" height="36.8" stroke-width="1.15" />
<line x1="54.2" y1="-18.4" x2="54.2" y2="18.4" stroke-width="1.15" />
<rect x="56.8" y="-14.8" width="9.3" height="29.6" stroke-width="1.15" />
<line x1="64.2" y1="-14.8" x2="64.2" y2="14.8" stroke-width="1.15" />
<path d="M 66.1 -13.6 L 74 -13 M 66.1 13.6 L 74 13" stroke-width="1.15" />
<path d="M 66.3 -13.4 L 73.8 -8.2 M 66.3 -9.6 L 73.8 -4.6 M 66.3 13.4 L 73.8 8.2 M 66.3 9.6 L 73.8 4.6" stroke-width="1.1" />
<path d="M 66.3 -4.8 L 73.8 -2.8 L 73.8 2.8 L 66.3 4.8 Z" fill="#666" stroke-width="1.0" />
<path d="M 74 -12.9 L 75.4 -12.9 Q 76.2 -12.9 76.2 -12 L 76.2 12 Q 76.2 12.9 75.4 12.9 L 74 12.9 Z" stroke-width="1.15" />
<rect x="76.2" y="-3" width="10.7" height="6" fill="#333" stroke-width="1.15" />
<line x1="76.4" y1="-1" x2="86.8" y2="-1" stroke-width="0.5" stroke="#999"/>
<line x1="76.4" y1="1" x2="86.8" y2="1" stroke-width="0.5" stroke="#999"/>
<line x1="-49" y1="0" x2="92" y2="0" stroke-width="0.7" stroke-dasharray="3.3 2.2"/>
</g>
<g transform="translate(447.0,384.5) rotate(-90)">
<rect x="-45.8" y="-10.3" width="30.7" height="20.6" stroke-width="1.15" />
<rect x="-44.6" y="-2.4" width="28.8" height="4.8" rx="2.4" stroke-width="1.15" />
<path d="M -15.1 -10.3 L -15.1 -11.3 L -13.6 -11.3 L -13.2 -10.8 L -13.2 10.8 L -13.6 11.3 L -15.1 11.3 L -15.1 10.3" stroke-width="1.15" />
<path d="M -2.2 -24.2 L -11 -24.2 Q -13.2 -24.2 -13.2 -22 L -13.2 22 Q -13.2 24.2 -11 24.2 L -2.2 24.2 L 0 26.5 M -2.2 -24.2 L 0 -26.5" stroke-width="1.15" />
<line x1="-2.6" y1="-24" x2="-2.6" y2="24" stroke-width="1.3" />
<line x1="-0.9" y1="-26" x2="-0.9" y2="26" stroke-width="1.3" />
<rect x="0" y="-33" width="6.8" height="66" stroke-width="1.15" />
<line x1="3.2" y1="-33" x2="3.2" y2="33" stroke-width="1.4" />
<path d="M 6.8 -26.5 L 9.5 -24.4 L 9.5 24.4 L 6.8 26.5" stroke-width="1.15" />
<line x1="8.4" y1="-25.5" x2="8.4" y2="25.5" stroke-width="1.3" />
<path d="M 9.5 -24.2 L 19.6 -24.2 M 9.5 -22.8 L 43 -22.8 M 35.3 -23.4 L 43 -23.4" stroke-width="1.15" />
<path d="M 9.5 24.2 L 19.6 24.2 M 9.5 22.8 L 43 22.8 M 35.3 23.4 L 43 23.4" stroke-width="1.15" />
<path d="M 19.6 -22.8 L 20.8 -25.6 L 34.1 -25.6 L 35.3 -22.8 Z" fill="#888" stroke-width="1.15" />
<path d="M 19.6 22.8 L 20.8 25.6 L 34.1 25.6 L 35.3 22.8 Z" fill="#888" stroke-width="1.15" />
<path d="M 9.5 -8.2 L 32.8 -8.2 Q 35.3 -8.2 35.3 -5.7 L 35.3 5.7 Q 35.3 8.2 32.8 8.2 L 9.5 8.2" stroke-width="1.15" />
<line x1="43" y1="-23.4" x2="43" y2="23.4" stroke-width="1.15" />
<path d="M 44.8 -23.4 L 47 -20.6 L 47 20.6 L 44.8 23.4 Z" stroke-width="1.15" />
<rect x="47" y="-18.6" width="10" height="37.2" stroke-width="1.15" />
<line x1="55.2" y1="-18.6" x2="55.2" y2="18.6" stroke-width="1.15" />
<rect x="57" y="-16" width="2.5" height="16" stroke-width="1.15" />
<line x1="59.8" y1="0" x2="59.8" y2="-36" stroke-width="1.15" />
<path d="M 59.8 -36 L 88.8 -36 Q 90.0 -36 90.0 -34.8 L 90.0 -33.4 L 59.8 -33.4 Z" fill="#444" stroke-width="1.15" />
<rect x="68" y="-35" width="7" height="1.2" fill="#999" stroke="none"/>
<path d="M 57 15 L 84.1 15 Q 87.6 15 87.6 11.5 L 87.6 -33.4" stroke-width="1.15" />
<line x1="83.8" y1="13.5" x2="83.8" y2="-33.4" stroke-width="1.15" />
<circle cx="74" cy="15" r="1.3" fill="#fff" stroke-width="0.9" />
<rect x="74" y="-18.5" width="9" height="14.7" stroke-width="1.15" />
<path d="M 60.4 -22 L 65.3 -33.4 L 69.8 -22" stroke-width="1.0" />
<path d="M 66.3 -33.4 L 70.8 -33.4 L 68.3 -20 Z" fill="#555" stroke-width="0.8" />
<path d="M 77.5 -33.4 L 80.5 -20.5" stroke-width="1.0" />
<path d="M 87.6 -33.4 L 90.0 -33.4 L 88.19999999999999 -27 Z" fill="#fff" stroke-width="0.9" />
<line x1="-49" y1="0" x2="74" y2="0" stroke-width="0.7" stroke-dasharray="3.3 2.2"/>
<rect x="87.6" y="-15.3" width="7.6" height="5.2" fill="#333" stroke-width="1.15" />
<line x1="74" y1="-12.7" x2="98.6" y2="-12.7" stroke-width="0.7" stroke-dasharray="3.3 2.2"/>
</g>
<g transform="translate(581.9,331.5) rotate(90)">
<rect x="-45.8" y="-10.3" width="30.7" height="20.6" stroke-width="1.15" />
<rect x="-44.6" y="-2.4" width="28.8" height="4.8" rx="2.4" stroke-width="1.15" />
<path d="M -15.1 -10.3 L -15.1 -11.3 L -13.6 -11.3 L -13.2 -10.8 L -13.2 10.8 L -13.6 11.3 L -15.1 11.3 L -15.1 10.3" stroke-width="1.15" />
<path d="M -2.2 -24.2 L -11 -24.2 Q -13.2 -24.2 -13.2 -22 L -13.2 22 Q -13.2 24.2 -11 24.2 L -2.2 24.2 L 0 26.5 M -2.2 -24.2 L 0 -26.5" stroke-width="1.15" />
<line x1="-2.6" y1="-24" x2="-2.6" y2="24" stroke-width="1.3" />
<line x1="-0.9" y1="-26" x2="-0.9" y2="26" stroke-width="1.3" />
<rect x="0" y="-33" width="6.8" height="66" stroke-width="1.15" />
<line x1="3.2" y1="-33" x2="3.2" y2="33" stroke-width="1.4" />
<path d="M 6.8 -26.5 L 9.5 -24.4 L 9.5 24.4 L 6.8 26.5" stroke-width="1.15" />
<line x1="8.4" y1="-25.5" x2="8.4" y2="25.5" stroke-width="1.3" />
<path d="M 9.5 -24.2 L 19.6 -24.2 M 9.5 -22.8 L 43 -22.8 M 35.3 -23.4 L 43 -23.4" stroke-width="1.15" />
<path d="M 9.5 24.2 L 19.6 24.2 M 9.5 22.8 L 43 22.8 M 35.3 23.4 L 43 23.4" stroke-width="1.15" />
<path d="M 19.6 -22.8 L 20.8 -25.6 L 34.1 -25.6 L 35.3 -22.8 Z" fill="#888" stroke-width="1.15" />
<path d="M 19.6 22.8 L 20.8 25.6 L 34.1 25.6 L 35.3 22.8 Z" fill="#888" stroke-width="1.15" />
<path d="M 9.5 -8.2 L 32.8 -8.2 Q 35.3 -8.2 35.3 -5.7 L 35.3 5.7 Q 35.3 8.2 32.8 8.2 L 9.5 8.2" stroke-width="1.15" />
<line x1="43" y1="-23.4" x2="43" y2="23.4" stroke-width="1.15" />
<path d="M 44.8 -23.4 L 47 -20.6 L 47 20.6 L 44.8 23.4 Z" stroke-width="1.15" />
<rect x="47" y="-18.6" width="10" height="37.2" stroke-width="1.15" />
<line x1="55.2" y1="-18.6" x2="55.2" y2="18.6" stroke-width="1.15" />
<rect x="57" y="-16" width="2.5" height="16" stroke-width="1.15" />
<line x1="59.8" y1="0" x2="59.8" y2="-36" stroke-width="1.15" />
<path d="M 59.8 -36 L 88.8 -36 Q 90.0 -36 90.0 -34.8 L 90.0 -33.4 L 59.8 -33.4 Z" fill="#444" stroke-width="1.15" />
<rect x="68" y="-35" width="7" height="1.2" fill="#999" stroke="none"/>
<path d="M 57 15 L 84.1 15 Q 87.6 15 87.6 11.5 L 87.6 -33.4" stroke-width="1.15" />
<line x1="83.8" y1="13.5" x2="83.8" y2="-33.4" stroke-width="1.15" />
<circle cx="74" cy="15" r="1.3" fill="#fff" stroke-width="0.9" />
<rect x="74" y="-18.5" width="9" height="14.7" stroke-width="1.15" />
<path d="M 60.4 -22 L 65.3 -33.4 L 69.8 -22" stroke-width="1.0" />
<path d="M 66.3 -33.4 L 70.8 -33.4 L 68.3 -20 Z" fill="#555" stroke-width="0.8" />
<path d="M 77.5 -33.4 L 80.5 -20.5" stroke-width="1.0" />
<path d="M 87.6 -33.4 L 90.0 -33.4 L 88.19999999999999 -27 Z" fill="#fff" stroke-width="0.9" />
<line x1="-49" y1="0" x2="74" y2="0" stroke-width="0.7" stroke-dasharray="3.3 2.2"/>
<rect x="87.6" y="-15.3" width="7.6" height="5.2" fill="#333" stroke-width="1.15" />
<line x1="74" y1="-12.7" x2="98.6" y2="-12.7" stroke-width="0.7" stroke-dasharray="3.3 2.2"/>
</g>
<g transform="translate(439.1,710.0) rotate(-90)">
<rect x="-45.8" y="-10.3" width="30.7" height="20.6" stroke-width="1.15" />
<rect x="-44.6" y="-2.4" width="28.8" height="4.8" rx="2.4" stroke-width="1.15" />
<path d="M -15.1 -10.3 L -15.1 -11.3 L -13.6 -11.3 L -13.2 -10.8 L -13.2 10.8 L -13.6 11.3 L -15.1 11.3 L -15.1 10.3" stroke-width="1.15" />
<path d="M -2.2 -24.2 L -11 -24.2 Q -13.2 -24.2 -13.2 -22 L -13.2 22 Q -13.2 24.2 -11 24.2 L -2.2 24.2 L 0 26.5 M -2.2 -24.2 L 0 -26.5" stroke-width="1.15" />
<line x1="-2.6" y1="-24" x2="-2.6" y2="24" stroke-width="1.3" />
<line x1="-0.9" y1="-26" x2="-0.9" y2="26" stroke-width="1.3" />
<rect x="0" y="-33" width="6.8" height="66" stroke-width="1.15" />
<line x1="3.2" y1="-33" x2="3.2" y2="33" stroke-width="1.4" />
<path d="M 6.8 -26.5 L 9.5 -24.4 L 9.5 24.4 L 6.8 26.5" stroke-width="1.15" />
<line x1="8.4" y1="-25.5" x2="8.4" y2="25.5" stroke-width="1.3" />
<path d="M 9.5 -24.2 L 19.6 -24.2 M 9.5 -22.8 L 43 -22.8 M 35.3 -23.4 L 43 -23.4" stroke-width="1.15" />
<path d="M 9.5 24.2 L 19.6 24.2 M 9.5 22.8 L 43 22.8 M 35.3 23.4 L 43 23.4" stroke-width="1.15" />
<path d="M 19.6 -22.8 L 20.8 -25.6 L 34.1 -25.6 L 35.3 -22.8 Z" fill="#888" stroke-width="1.15" />
<path d="M 19.6 22.8 L 20.8 25.6 L 34.1 25.6 L 35.3 22.8 Z" fill="#888" stroke-width="1.15" />
<path d="M 9.5 -8.2 L 32.8 -8.2 Q 35.3 -8.2 35.3 -5.7 L 35.3 5.7 Q 35.3 8.2 32.8 8.2 L 9.5 8.2" stroke-width="1.15" />
<line x1="43" y1="-23.4" x2="43" y2="23.4" stroke-width="1.15" />
<path d="M 44.8 -23.4 L 47 -20.6 L 47 20.6 L 44.8 23.4 Z" stroke-width="1.15" />
<rect x="47" y="-18.6" width="10" height="37.2" stroke-width="1.15" />
<line x1="55.2" y1="-18.6" x2="55.2" y2="18.6" stroke-width="1.15" />
<rect x="57" y="-16" width="2.5" height="16" stroke-width="1.15" />
<line x1="59.8" y1="0" x2="59.8" y2="-36" stroke-width="1.15" />
<path d="M 59.8 -36 L 88.8 -36 Q 90.0 -36 90.0 -34.8 L 90.0 -33.4 L 59.8 -33.4 Z" fill="#444" stroke-width="1.15" />
<rect x="68" y="-35" width="7" height="1.2" fill="#999" stroke="none"/>
<path d="M 57 15 L 84.1 15 Q 87.6 15 87.6 11.5 L 87.6 -33.4" stroke-width="1.15" />
<line x1="83.8" y1="13.5" x2="83.8" y2="-33.4" stroke-width="1.15" />
<circle cx="74" cy="15" r="1.3" fill="#fff" stroke-width="0.9" />
<rect x="74" y="-18.5" width="9" height="14.7" stroke-width="1.15" />
<path d="M 60.4 -22 L 65.3 -33.4 L 69.8 -22" stroke-width="1.0" />
<path d="M 66.3 -33.4 L 70.8 -33.4 L 68.3 -20 Z" fill="#555" stroke-width="0.8" />
<path d="M 77.5 -33.4 L 80.5 -20.5" stroke-width="1.0" />
<path d="M 87.6 -33.4 L 90.0 -33.4 L 88.19999999999999 -27 Z" fill="#fff" stroke-width="0.9" />
<line x1="-49" y1="0" x2="74" y2="0" stroke-width="0.7" stroke-dasharray="3.3 2.2"/>
<rect x="71.6" y="-43" width="4.4" height="7" fill="#fff" stroke-width="1.15" />
<line x1="73.8" y1="-44" x2="73.8" y2="-4" stroke-width="0.7" stroke-dasharray="3.3 2.2"/>
<path d="M 87.6 -17.2 L 88.8 -16.2 L 88.8 -9.2 L 87.6 -8.2" fill="#888" stroke-width="0.9" />
</g>
<g transform="translate(580.3,658.7) rotate(90)">
<rect x="-45.8" y="-10.3" width="30.7" height="20.6" stroke-width="1.15" />
<rect x="-44.6" y="-2.4" width="28.8" height="4.8" rx="2.4" stroke-width="1.15" />
<path d="M -15.1 -10.3 L -15.1 -11.3 L -13.6 -11.3 L -13.2 -10.8 L -13.2 10.8 L -13.6 11.3 L -15.1 11.3 L -15.1 10.3" stroke-width="1.15" />
<path d="M -2.2 -24.2 L -11 -24.2 Q -13.2 -24.2 -13.2 -22 L -13.2 22 Q -13.2 24.2 -11 24.2 L -2.2 24.2 L 0 26.5 M -2.2 -24.2 L 0 -26.5" stroke-width="1.15" />
<line x1="-2.6" y1="-24" x2="-2.6" y2="24" stroke-width="1.3" />
<line x1="-0.9" y1="-26" x2="-0.9" y2="26" stroke-width="1.3" />
<rect x="0" y="-33" width="6.8" height="66" stroke-width="1.15" />
<line x1="3.2" y1="-33" x2="3.2" y2="33" stroke-width="1.4" />
<path d="M 6.8 -26.5 L 9.5 -24.4 L 9.5 24.4 L 6.8 26.5" stroke-width="1.15" />
<line x1="8.4" y1="-25.5" x2="8.4" y2="25.5" stroke-width="1.3" />
<path d="M 9.5 -24.2 L 19.6 -24.2 M 9.5 -22.8 L 43 -22.8 M 35.3 -23.4 L 43 -23.4" stroke-width="1.15" />
<path d="M 9.5 24.2 L 19.6 24.2 M 9.5 22.8 L 43 22.8 M 35.3 23.4 L 43 23.4" stroke-width="1.15" />
<path d="M 19.6 -22.8 L 20.8 -25.6 L 34.1 -25.6 L 35.3 -22.8 Z" fill="#888" stroke-width="1.15" />
<path d="M 19.6 22.8 L 20.8 25.6 L 34.1 25.6 L 35.3 22.8 Z" fill="#888" stroke-width="1.15" />
<path d="M 9.5 -8.2 L 32.8 -8.2 Q 35.3 -8.2 35.3 -5.7 L 35.3 5.7 Q 35.3 8.2 32.8 8.2 L 9.5 8.2" stroke-width="1.15" />
<line x1="43" y1="-23.4" x2="43" y2="23.4" stroke-width="1.15" />
<path d="M 44.8 -23.4 L 47 -20.6 L 47 20.6 L 44.8 23.4 Z" stroke-width="1.15" />
<rect x="47" y="-18.6" width="10" height="37.2" stroke-width="1.15" />
<line x1="55.2" y1="-18.6" x2="55.2" y2="18.6" stroke-width="1.15" />
<rect x="57" y="-16" width="2.5" height="16" stroke-width="1.15" />
<line x1="59.8" y1="0" x2="59.8" y2="-36" stroke-width="1.15" />
<path d="M 59.8 -36 L 88.8 -36 Q 90.0 -36 90.0 -34.8 L 90.0 -33.4 L 59.8 -33.4 Z" fill="#444" stroke-width="1.15" />
<rect x="68" y="-35" width="7" height="1.2" fill="#999" stroke="none"/>
<path d="M 57 15 L 84.1 15 Q 87.6 15 87.6 11.5 L 87.6 -33.4" stroke-width="1.15" />
<line x1="83.8" y1="13.5" x2="83.8" y2="-33.4" stroke-width="1.15" />
<circle cx="74" cy="15" r="1.3" fill="#fff" stroke-width="0.9" />
<rect x="74" y="-18.5" width="9" height="14.7" stroke-width="1.15" />
<path d="M 60.4 -22 L 65.3 -33.4 L 69.8 -22" stroke-width="1.0" />
<path d="M 66.3 -33.4 L 70.8 -33.4 L 68.3 -20 Z" fill="#555" stroke-width="0.8" />
<path d="M 77.5 -33.4 L 80.5 -20.5" stroke-width="1.0" />
<path d="M 87.6 -33.4 L 90.0 -33.4 L 88.19999999999999 -27 Z" fill="#fff" stroke-width="0.9" />
<line x1="-49" y1="0" x2="74" y2="0" stroke-width="0.7" stroke-dasharray="3.3 2.2"/>
<rect x="71.6" y="-43" width="4.4" height="7" fill="#fff" stroke-width="1.15" />
<line x1="73.8" y1="-44" x2="73.8" y2="-4" stroke-width="0.7" stroke-dasharray="3.3 2.2"/>
<path d="M 87.6 -17.2 L 88.8 -16.2 L 88.8 -9.2 L 87.6 -8.2" fill="#888" stroke-width="0.9" />
</g>
</g>
<text class="cn" font-size="11.8" text-anchor="middle" dominant-baseline="central" transform="translate(23.5,167.32500000000002) rotate(-90)">同</text>
<text class="cn" font-size="11.8" text-anchor="middle" dominant-baseline="central" transform="translate(23.5,155.175) rotate(-90)">轴</text>
<text class="cn" font-size="11.8" text-anchor="middle" dominant-baseline="central" transform="translate(23.5,143.025) rotate(-90)">行</text>
<text class="cn" font-size="11.8" text-anchor="middle" dominant-baseline="central" transform="translate(23.5,130.875) rotate(-90)">星</text>
<text class="cn" font-size="11.8" text-anchor="middle" dominant-baseline="central" transform="translate(23.5,118.72499999999998) rotate(-90)">齿</text>
<text class="cn" font-size="11.8" text-anchor="middle" dominant-baseline="central" transform="translate(23.5,106.57499999999997) rotate(-90)">轮</text>
<text class="cn" font-size="11.8" text-anchor="middle" dominant-baseline="central" transform="translate(23.5,94.42499999999997) rotate(-90)">减</text>
<text class="cn" font-size="11.8" text-anchor="middle" dominant-baseline="central" transform="translate(23.5,82.27499999999996) rotate(-90)">速</text>
<text class="cn" font-size="11.8" text-anchor="middle" dominant-baseline="central" transform="translate(23.5,70.12499999999996) rotate(-90)">机</text>
<text class="cn" font-size="11.8" text-anchor="middle" dominant-baseline="central" transform="translate(23.5,413.6) rotate(-90)">斜</text>
<text class="cn" font-size="11.8" text-anchor="middle" dominant-baseline="central" transform="translate(23.5,401.20000000000005) rotate(-90)">齿</text>
<text class="cn" font-size="11.8" text-anchor="middle" dominant-baseline="central" transform="translate(23.5,388.80000000000007) rotate(-90)">轮</text>
<line x1="23.5" y1="374.7" x2="23.5" y2="379.1" stroke-width="1.0" stroke="#000"/>
<text class="cn" font-size="11.8" text-anchor="middle" dominant-baseline="central" transform="translate(23.5,365.0000000000001) rotate(-90)">行</text>
<text class="cn" font-size="11.8" text-anchor="middle" dominant-baseline="central" transform="translate(23.5,352.60000000000014) rotate(-90)">星</text>
<text class="cn" font-size="11.8" text-anchor="middle" dominant-baseline="central" transform="translate(23.5,340.20000000000016) rotate(-90)">齿</text>
<text class="cn" font-size="11.8" text-anchor="middle" dominant-baseline="central" transform="translate(23.5,327.8000000000002) rotate(-90)">轮</text>
<text class="cn" font-size="11.8" text-anchor="middle" dominant-baseline="central" transform="translate(23.5,315.4000000000002) rotate(-90)">减</text>
<text class="cn" font-size="11.8" text-anchor="middle" dominant-baseline="central" transform="translate(23.5,303.0000000000002) rotate(-90)">速</text>
<text class="cn" font-size="11.8" text-anchor="middle" dominant-baseline="central" transform="translate(23.5,290.60000000000025) rotate(-90)">机</text>
<text class="cn" font-size="11.8" text-anchor="middle" dominant-baseline="central" transform="translate(23.5,752.0250000000001) rotate(-90)">锥</text>
<text class="cn" font-size="11.8" text-anchor="middle" dominant-baseline="central" transform="translate(23.5,739.6750000000001) rotate(-90)">齿</text>
<text class="cn" font-size="11.8" text-anchor="middle" dominant-baseline="central" transform="translate(23.5,727.325) rotate(-90)">轮</text>
<line x1="23.5" y1="714.7" x2="23.5" y2="719.1" stroke-width="1.0" stroke="#000"/>
<text class="cn" font-size="11.8" text-anchor="middle" dominant-baseline="central" transform="translate(23.5,706.475) rotate(-90)">斜</text>
<text class="cn" font-size="11.8" text-anchor="middle" dominant-baseline="central" transform="translate(23.5,694.125) rotate(-90)">齿</text>
<text class="cn" font-size="11.8" text-anchor="middle" dominant-baseline="central" transform="translate(23.5,681.775) rotate(-90)">轮</text>
<line x1="23.5" y1="669.15" x2="23.5" y2="673.55" stroke-width="1.0" stroke="#000"/>
<text class="cn" font-size="11.8" text-anchor="middle" dominant-baseline="central" transform="translate(23.5,660.925) rotate(-90)">行</text>
<text class="cn" font-size="11.8" text-anchor="middle" dominant-baseline="central" transform="translate(23.5,648.5749999999999) rotate(-90)">星</text>
<text class="cn" font-size="11.8" text-anchor="middle" dominant-baseline="central" transform="translate(23.5,636.2249999999999) rotate(-90)">齿</text>
<text class="cn" font-size="11.8" text-anchor="middle" dominant-baseline="central" transform="translate(23.5,623.8749999999999) rotate(-90)">轮</text>
<text class="cn" font-size="11.8" text-anchor="middle" dominant-baseline="central" transform="translate(23.5,611.5249999999999) rotate(-90)">减</text>
<text class="cn" font-size="11.8" text-anchor="middle" dominant-baseline="central" transform="translate(23.5,599.1749999999998) rotate(-90)">速</text>
<text class="cn" font-size="11.8" text-anchor="middle" dominant-baseline="central" transform="translate(23.5,586.8249999999998) rotate(-90)">器</text>
<text class="" font-size="12.5" text-anchor="middle" dominant-baseline="central" transform="translate(52.400000000000006,126.4) rotate(-90)">010</text>
<text class="" font-size="12.5" text-anchor="middle" dominant-baseline="central" transform="translate(53.0,232.2) rotate(-90)">111</text>
<text class="" font-size="12.5" text-anchor="middle" dominant-baseline="central" transform="translate(51.0,313.70000000000005) rotate(-90)">112</text>
<text class="" font-size="12.5" text-anchor="middle" dominant-baseline="central" transform="translate(53.0,396.6) rotate(-90)">113</text>
<text class="" font-size="12.5" text-anchor="middle" dominant-baseline="central" transform="translate(52.599999999999994,475.5) rotate(-90)">114</text>
<text class="" font-size="12.5" text-anchor="middle" dominant-baseline="central" transform="translate(52.400000000000006,555.7) rotate(-90)">211</text>
<text class="" font-size="12.5" text-anchor="middle" dominant-baseline="central" transform="translate(52.400000000000006,637.9000000000001) rotate(-90)">212</text>
<text class="" font-size="12.5" text-anchor="middle" dominant-baseline="central" transform="translate(52.400000000000006,721.7) rotate(-90)">213</text>
<text class="" font-size="12.5" text-anchor="middle" dominant-baseline="central" transform="translate(52.599999999999994,805.8) rotate(-90)">214</text>
<text class="" font-size="12.5" text-anchor="middle" dominant-baseline="central" transform="translate(368.20000000000005,126.4) rotate(-90)">020</text>
<text class="" font-size="12.5" text-anchor="middle" dominant-baseline="central" transform="translate(367.79999999999995,353.0) rotate(-90)">121</text>
<text class="" font-size="12.5" text-anchor="middle" dominant-baseline="central" transform="translate(368.79999999999995,686.2) rotate(-90)">221</text>
<text class="" font-size="12.5" text-anchor="middle" dominant-baseline="central" transform="translate(515.0,126.6) rotate(-90)">040</text>
<text class="" font-size="12.5" text-anchor="middle" dominant-baseline="central" transform="translate(515.8,353.20000000000005) rotate(-90)">141</text>
<text class="" font-size="12.5" text-anchor="middle" dominant-baseline="central" transform="translate(515.8,686.4000000000001) rotate(-90)">241</text>
<g stroke="#000">
<line x1="334.5" y1="265.5" x2="334.5" y2="270.3" stroke-width="1.0" />
<line x1="332.42" y1="266.7" x2="336.58" y2="269.1" stroke-width="1.0" />
<line x1="336.58" y1="266.7" x2="332.42" y2="269.1" stroke-width="1.0" />
<line x1="340.8" y1="265.5" x2="340.8" y2="270.3" stroke-width="1.0" />
<line x1="338.72" y1="266.7" x2="342.88" y2="269.1" stroke-width="1.0" />
<line x1="342.88" y1="266.7" x2="338.72" y2="269.1" stroke-width="1.0" />
<line x1="335.4" y1="589.1" x2="335.4" y2="593.9" stroke-width="1.0" />
<line x1="333.32" y1="590.3" x2="337.48" y2="592.7" stroke-width="1.0" />
<line x1="337.48" y1="590.3" x2="333.32" y2="592.7" stroke-width="1.0" />
<line x1="341.5" y1="589.1" x2="341.5" y2="593.9" stroke-width="1.0" />
<line x1="339.42" y1="590.3" x2="343.58" y2="592.7" stroke-width="1.0" />
<line x1="343.58" y1="590.3" x2="339.42" y2="592.7" stroke-width="1.0" />
</g>
<text class="cn" x="3.70" y="18.6" font-size="12.2">轴</text>
<text class="cn" x="15.90" y="18.6" font-size="12.2">的</text>
<text class="cn" x="28.10" y="18.6" font-size="12.2">位</text>
<text class="cn" x="40.30" y="18.6" font-size="12.2">置</text>
<text class="cn" x="157.50" y="38.6" font-size="12">水</text>
<text class="cn" x="169.55" y="38.6" font-size="12">平</text>
<text class="cn" x="181.60" y="38.6" font-size="12">输</text>
<text class="cn" x="193.65" y="38.6" font-size="12">出</text>
<text class="cn" x="205.70" y="38.6" font-size="12">轴</text>
<text class="cn" x="476.30" y="38.6" font-size="12">垂</text>
<text class="cn" x="488.38" y="38.6" font-size="12">直</text>
<text class="cn" x="500.46" y="38.6" font-size="12">输</text>
<text class="cn" x="512.54" y="38.6" font-size="12">出</text>
<text class="cn" x="524.62" y="38.6" font-size="12">轴</text>
<g stroke="#000">
<line x1="7.2" y1="849.3" x2="7.2" y2="855.1" stroke-width="1.0" />
<line x1="4.69" y1="850.75" x2="9.71" y2="853.65" stroke-width="1.0" />
<line x1="9.71" y1="850.75" x2="4.69" y2="853.65" stroke-width="1.0" />
<line x1="325" y1="849.7" x2="325" y2="854.7" stroke-width="1.0" />
<line x1="322.83" y1="850.95" x2="327.17" y2="853.45" stroke-width="1.0" />
<line x1="327.17" y1="850.95" x2="322.83" y2="853.45" stroke-width="1.0" />
<line x1="330" y1="849.7" x2="330" y2="854.7" stroke-width="1.0" />
<line x1="327.83" y1="850.95" x2="332.17" y2="853.45" stroke-width="1.0" />
<line x1="332.17" y1="850.95" x2="327.83" y2="853.45" stroke-width="1.0" />
</g>
<text class="cn" x="13.90" y="857.3" font-size="12">仅</text>
<text class="cn" x="25.70" y="857.3" font-size="12">对</text>
<text x="41.10" y="857.3" font-size="12.5">2</text>
<text class="cn" x="50.30" y="857.3" font-size="12">和</text>
<text x="64.70" y="857.3" font-size="12.5">3</text>
<text class="cn" x="74.80" y="857.3" font-size="12">级</text>
<text class="cn" x="86.67" y="857.3" font-size="12">行</text>
<text class="cn" x="98.54" y="857.3" font-size="12">星</text>
<text class="cn" x="110.41" y="857.3" font-size="12">齿</text>
<text class="cn" x="122.28" y="857.3" font-size="12">轮</text>
<text class="cn" x="134.15" y="857.3" font-size="12">减</text>
<text class="cn" x="146.02" y="857.3" font-size="12">速</text>
<text class="cn" x="157.89" y="857.3" font-size="12">器</text>
<text class="cn" x="166.60" y="857.3" font-size="12">（</text>
<text x="180.00" y="857.3" font-size="12.5">4</text>
<text class="cn" x="189.20" y="857.3" font-size="12">级</text>
<text class="cn" x="201.53" y="857.3" font-size="12">要</text>
<text class="cn" x="213.86" y="857.3" font-size="12">求</text>
<text class="cn" x="226.19" y="857.3" font-size="12">即</text>
<text class="cn" x="238.52" y="857.3" font-size="12">供</text>
<text class="cn" x="255.10" y="857.3" font-size="12">）</text>
<text class="cn" x="337.80" y="857.3" font-size="12">若</text>
<text class="cn" x="350.00" y="857.3" font-size="12">高</text>
<text class="cn" x="362.20" y="857.3" font-size="12">速</text>
<text class="cn" x="374.40" y="857.3" font-size="12">轴</text>
<text class="cn" x="386.60" y="857.3" font-size="12">的</text>
<text class="cn" x="398.80" y="857.3" font-size="12">位</text>
<text class="cn" x="411.00" y="857.3" font-size="12">置</text>
<text class="cn" x="423.20" y="857.3" font-size="12">为</text>
<text x="438.20" y="857.3" font-size="12.5">1</text>
<text class="cn" x="440.00" y="857.3" font-size="12">，</text>
<text class="cn" x="455.90" y="857.3" font-size="12">要</text>
<text class="cn" x="467.90" y="857.3" font-size="12">求</text>
<text class="cn" x="479.90" y="857.3" font-size="12">压</text>
<text class="cn" x="491.90" y="857.3" font-size="12">力</text>
<text class="cn" x="503.90" y="857.3" font-size="12">润</text>
<text class="cn" x="515.90" y="857.3" font-size="12">滑</text>
</svg></body></html>
